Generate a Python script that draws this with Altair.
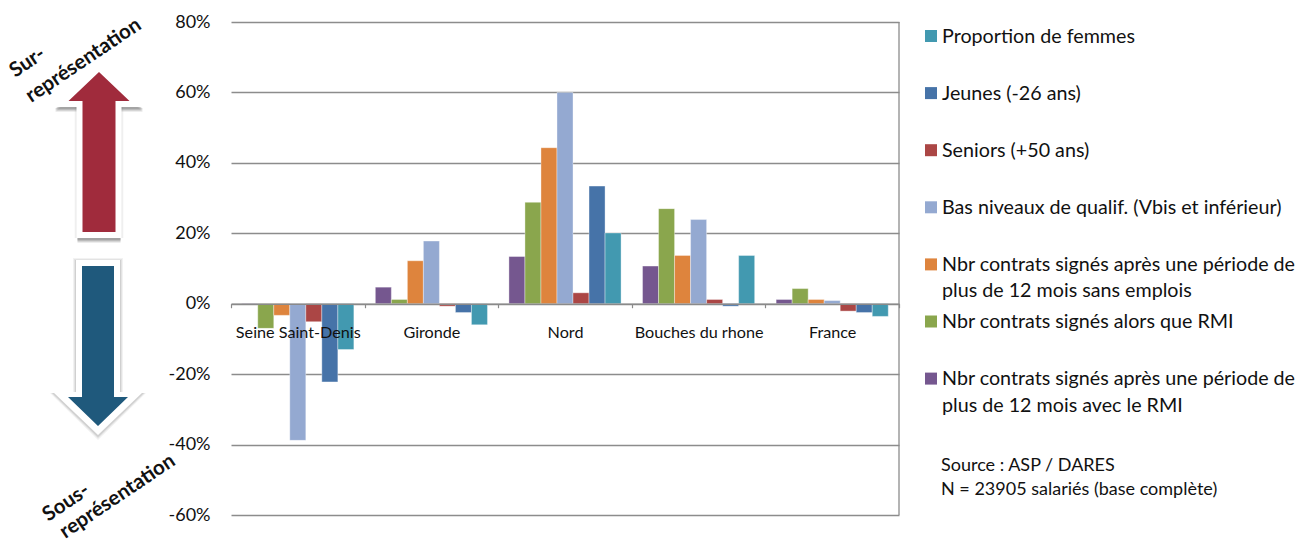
import altair as alt
import pandas as pd

# Relative over/under-representation by territory (percent)
territories = ["Seine Saint-Denis", "Gironde", "Nord", "Bouches du rhone", "France"]
series = [
    "Nbr contrats signés après une période de plus de 12 mois avec le RMI",
    "Nbr contrats signés alors que RMI",
    "Nbr contrats signés après une période de plus de 12 mois sans emplois",
    "Bas niveaux de qualif. (Vbis et inférieur)",
    "Seniors (+50 ans)",
    "Jeunes (-26 ans)",
    "Proportion de femmes",
]
rmi_long = [-0.2, 4.7, 13.4, 10.7, 1.2]
rmi_signed = [-7.0, 1.2, 28.8, 27.0, 4.3]
unemployed_long = [-3.3, 12.2, 44.3, 13.7, 1.2]
low_skill = [-38.8, 17.8, 60.0, 23.9, 0.9]
seniors = [-5.1, -0.7, 3.1, 1.2, -2.1]
youth = [-22.2, -2.5, 33.4, -0.7, -2.5]
women = [-13.0, -6.0, 20.1, 13.7, -3.6]
all_values = [rmi_long, rmi_signed, unemployed_long, low_skill, seniors, youth, women]
colors = ["#75578F", "#8AA64D", "#DE843D", "#94A9D1", "#AB4645", "#4673A8", "#4299B0"]
y_ticks = [-60, -40, -20, 0, 20, 40, 60, 80]

# Legend text, top to bottom, with its manual line breaks
legend_lines = [
    "Proportion de femmes",
    "Jeunes (-26 ans)",
    "Seniors (+50 ans)",
    "Bas niveaux de qualif. (Vbis et inférieur)",
    "Nbr contrats signés après une période de\nplus de 12 mois sans emplois",
    "Nbr contrats signés alors que RMI",
    "Nbr contrats signés après une période de\nplus de 12 mois avec le RMI",
]
source_lines = ["Source : ASP / DARES", "N = 23905  salariés (base complète)"]

FONT = "Lato"
LEFT, TOP = 231, 22
PLOT_W, PLOT_H = 668, 493

rows = [
    {"territory": t, "series": s, "order": i, "value": vals[j]}
    for i, (s, vals) in enumerate(zip(series, all_values))
    for j, t in enumerate(territories)
]
df = pd.DataFrame(rows)

bars = (
    alt.Chart(df)
    .mark_bar(stroke="#ffffff", strokeOpacity=0.45, strokeWidth=0.8)
    .encode(
        x=alt.X(
            "territory:N",
            sort=territories,
            title=None,
            scale=alt.Scale(paddingInner=0, paddingOuter=0),
            axis=alt.Axis(
                # Category axis sits on the zero line rather than at the plot's foot
                offset=-(PLOT_H * 60 / 140),
                labelAngle=0,
                labelFont=FONT,
                labelFontSize=16.2,
                labelColor="#111111",
                labelPadding=17,
                labelLimit=200,
                tickBand="extent",
                tickColor="#8a8a8a",
                tickSize=4,
                tickWidth=1.2,
                domainColor="#8a8a8a",
                domainWidth=1.4,
                grid=False,
                zindex=1,
            ),
        ),
        xOffset=alt.XOffset(
            "series:N", sort=series, scale=alt.Scale(paddingOuter=0.67, paddingInner=0)
        ),
        y=alt.Y(
            "value:Q",
            title=None,
            scale=alt.Scale(domain=[-60, 80], nice=False),
            axis=alt.Axis(
                values=y_ticks,
                labelExpr="datum.value + '%'",
                labelFont=FONT,
                labelFontSize=18,
                labelColor="#111111",
                labelPadding=21,
                domain=False,
                ticks=False,
                grid=True,
                gridColor="#8c8c8c",
                gridWidth=1.3,
            ),
        ),
        color=alt.Color(
            "series:N", sort=series, legend=None,
            scale=alt.Scale(domain=series, range=colors),
        ),
    )
)


def px(x):
    return alt.value(x - LEFT)


def py(y):
    return alt.value(y - TOP)


# Right-hand frame of the plot
frame = alt.Chart(pd.DataFrame({"k": [0]})).mark_rule(color="#8c8c8c", strokeWidth=1.3).encode(
    x=alt.value(PLOT_W), y=alt.value(0), y2=alt.value(PLOT_H)
)


def arrow_path(tip, shoulder, half_head, half_shaft, tail):
    """Arrow outline in pixels around (0, 0); y grows downward."""
    pts = [
        (0, tip), (half_head, shoulder), (half_shaft, shoulder), (half_shaft, tail),
        (-half_shaft, tail), (-half_shaft, shoulder), (-half_head, shoulder),
    ]
    return "M" + "L".join(f"{x / 100:.3f},{y / 100:.3f}" for x, y in pts) + "Z"


def arrow_layer(cx, cy, path, color, opacity=1.0):
    # Vega scales a custom symbol path by sqrt(size) / 2, so size 40000 maps 0.01 units to 1 px
    return (
        alt.Chart(pd.DataFrame({"k": [0]}))
        .mark_point(shape=path, filled=True, fill=color, opacity=opacity, size=40000, strokeWidth=0)
        .encode(x=px(cx), y=py(cy))
    )


def up_arrow(cx, cy):
    layers = []
    for grow, op in ((2, 0.05), (1, 0.07)):
        layers.append(arrow_layer(cx, cy, arrow_path(-85, -45, 44, 22.5 + grow, 86), "#4a4a4a", op))
    for drop, op in ((5, 0.1), (4, 0.14), (3, 0.18), (2, 0.2)):
        layers.append(arrow_layer(cx, cy + drop, arrow_path(-85, -45, 44, 21.5, 86), "#4a4a4a", op))
    layers.append(arrow_layer(cx, cy, arrow_path(-89, -45, 45.5, 22.5, 86), "#ffffff"))
    layers.append(arrow_layer(cx, cy, arrow_path(-80, -51, 30.5, 16.5, 80), "#A02B3C"))
    return layers


def down_arrow(cx, cy):
    layers = []
    for grow, op in ((3, 0.07), (2, 0.09), (1, 0.12)):
        layers.append(arrow_layer(cx, cy + 1, arrow_path(87 + grow * 1.3, 44, 45 + grow, 22 + grow, -88 - grow), "#4a4a4a", op))
    layers.append(arrow_layer(cx, cy, arrow_path(87, 44, 45, 22, -88), "#ffffff"))
    layers.append(arrow_layer(cx, cy, arrow_path(78, 49, 30, 16, -82), "#1F597C"))
    return layers


def text_layer(text, x, y, size=19.7, angle=0, weight="normal", align="left", color="#111111"):
    return (
        alt.Chart(pd.DataFrame({"t": [text]}))
        .mark_text(
            font=FONT, fontSize=size, angle=angle, fontWeight=weight, align=align,
            baseline="middle", color=color,
        )
        .encode(x=px(x), y=py(y), text="t:N")
    )


arrows = up_arrow(99, 152) + down_arrow(98, 348)

# Hand-placed captions beside the arrows, rotated along the reading direction
captions = [
    text_layer("Sur-", 12, 73, size=20.5, angle=326, weight="bold"),
    text_layer("représentation", 28, 98, size=20.5, angle=326, weight="bold"),
    text_layer("Sous-", 45, 517, size=20.5, angle=326, weight="bold"),
    text_layer("représentation", 62, 534, size=20.5, angle=326, weight="bold"),
]

legend = []
for i, line in enumerate(legend_lines):
    row_y = 36.5 + 57.1 * i
    swatch = (
        alt.Chart(pd.DataFrame({"k": [0]}))
        .mark_square(size=144, color=colors[len(colors) - 1 - i], opacity=1)
        .encode(x=px(931), y=py(row_y - 0.5))
    )
    legend.append(swatch)
    legend.append(text_layer(line.split("\n")[0], 942, row_y))
    if "\n" in line:
        legend.append(text_layer(line.split("\n")[1], 942, row_y + 26.5))

source = [
    text_layer(source_lines[0], 941, 465.5, size=18),
    text_layer(source_lines[1], 941, 489.5, size=18),
]

chart = (
    alt.layer(bars, frame, *arrows, *captions, *legend, *source)
    .properties(
        width=PLOT_W,
        height=PLOT_H,
        autosize=alt.AutoSizeParams(type="none"),
        padding={"left": LEFT, "top": TOP, "right": 1299 - LEFT - PLOT_W, "bottom": 539 - TOP - PLOT_H},
        background="#ffffff",
    )
    .configure_view(stroke=None)
)

chart.save("out.html", embed_options={"renderer": "svg", "actions": False})
